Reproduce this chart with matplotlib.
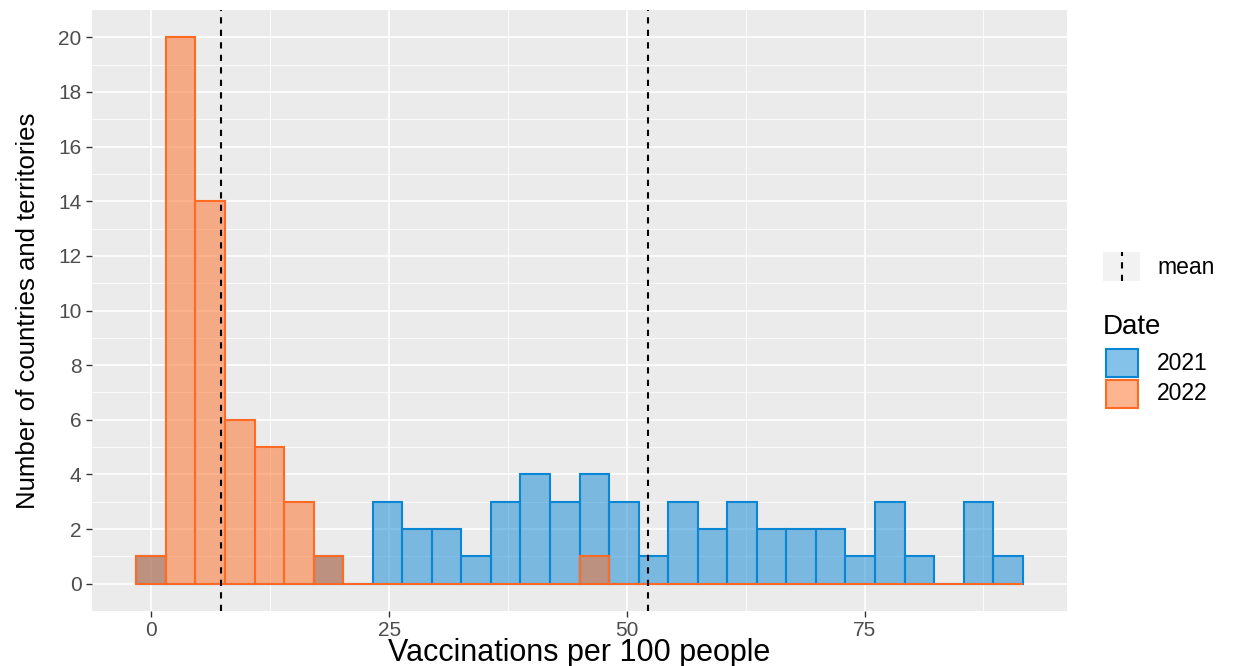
import matplotlib
matplotlib.use('Agg')
import matplotlib.pyplot as plt
from matplotlib.colors import to_rgba
from matplotlib.patches import Rectangle
from matplotlib.lines import Line2D
import numpy as np

# histogram bins shared by both years (30 bins)
bin_start = -1.58
bin_width = 3.107
counts_2021 = [1, 0, 0, 0, 0, 0, 1, 0, 3, 2, 2, 1, 3, 4, 3, 4, 3, 1, 3, 2,
               3, 2, 2, 2, 1, 3, 1, 0, 3, 1]
counts_2022 = [1, 20, 14, 6, 5, 3, 1, 0, 0, 0, 0, 0, 0, 0, 0, 1, 0, 0, 0, 0,
               0, 0, 0, 0, 0, 0, 0, 0, 0, 0]
mean_values = [7.35, 52.2]
years = ['2021', '2022']
x_ticks = [0, 25, 50, 75]
y_ticks = list(range(0, 21, 2))

blue = '#0a87d4'
orange = '#ff6b23'

plt.rcParams['font.family'] = ['Liberation Sans', 'DejaVu Sans']

fig = plt.figure(figsize=(12.33, 6.66), dpi=100)
ax = fig.add_axes([92/1233, 1 - 611/666, (1067-92)/1233, (611-10)/666])
ax.set_facecolor('#EBEBEB')

edges = bin_start + bin_width * np.arange(len(counts_2021))
for counts, col in [(counts_2021, blue), (counts_2022, orange)]:
    ax.bar(edges, counts, width=bin_width, align='edge',
           facecolor=to_rgba(col, 0.5), edgecolor=col, linewidth=1.5, zorder=2)

for m in mean_values:
    ax.axvline(m, color='black', linestyle=(0, (3, 3)), linewidth=1.5, zorder=3)

lo = bin_start
hi = bin_start + bin_width * len(counts_2021)
pad = (hi - lo) * 0.05
ax.set_xlim(lo - pad, hi + pad)
ax.set_ylim(-1, 21)

ax.set_xticks(x_ticks)
ax.set_xticks([12.5, 37.5, 62.5, 87.5], minor=True)
ax.set_yticks(y_ticks)
ax.set_yticks(np.arange(1, 21, 2), minor=True)
ax.grid(which='major', color='white', linewidth=1.2, zorder=0)
ax.grid(which='minor', color='white', linewidth=0.6, zorder=0)
ax.set_axisbelow(True)
for s in ax.spines.values():
    s.set_visible(False)
ax.tick_params(which='major', length=4, color='#333333', labelcolor='#4D4D4D',
               labelsize=15, width=1)
ax.tick_params(which='minor', length=0)

ax.set_xlabel('Vaccinations per 100 people', fontsize=22, va='center')
ax.xaxis.set_label_coords(0.5, (611 - 653) / 601)
ax.set_ylabel('Number of countries and territories', fontsize=18.5, va='center')
ax.yaxis.set_label_coords((28 - 92) / 975, 0.5)

# legend drawn by hand, ggplot style
W, H = 1233, 666
def fx(px): return px / W
def fy(py): return 1 - py / H

fig.add_artist(Rectangle((fx(1103), fy(281)), 37/W, 29/H, transform=fig.transFigure,
                         facecolor='#F2F2F2', edgecolor='none'))
fig.add_artist(Line2D([fx(1121.5), fx(1121.5)], [fy(281), fy(252)], transform=fig.transFigure,
                      color='black', linestyle=(0, (3, 3)), linewidth=1.5))
fig.text(fx(1157), fy(267), 'mean', fontsize=16.5, va='center', ha='left')

fig.text(fx(1103), fy(327), 'Date', fontsize=20, va='center', ha='left')
for i, (yr, col) in enumerate(zip(years, [blue, orange])):
    top = 349 + i * 31
    fig.add_artist(Rectangle((fx(1106), fy(top + 28)), 32/W, 28/H, transform=fig.transFigure,
                             facecolor=to_rgba(col, 0.5), edgecolor=col, linewidth=1.5))
    fig.text(fx(1157), fy(top + 14), yr, fontsize=16.5, va='center', ha='left')

fig.savefig('out.png', dpi=100)
